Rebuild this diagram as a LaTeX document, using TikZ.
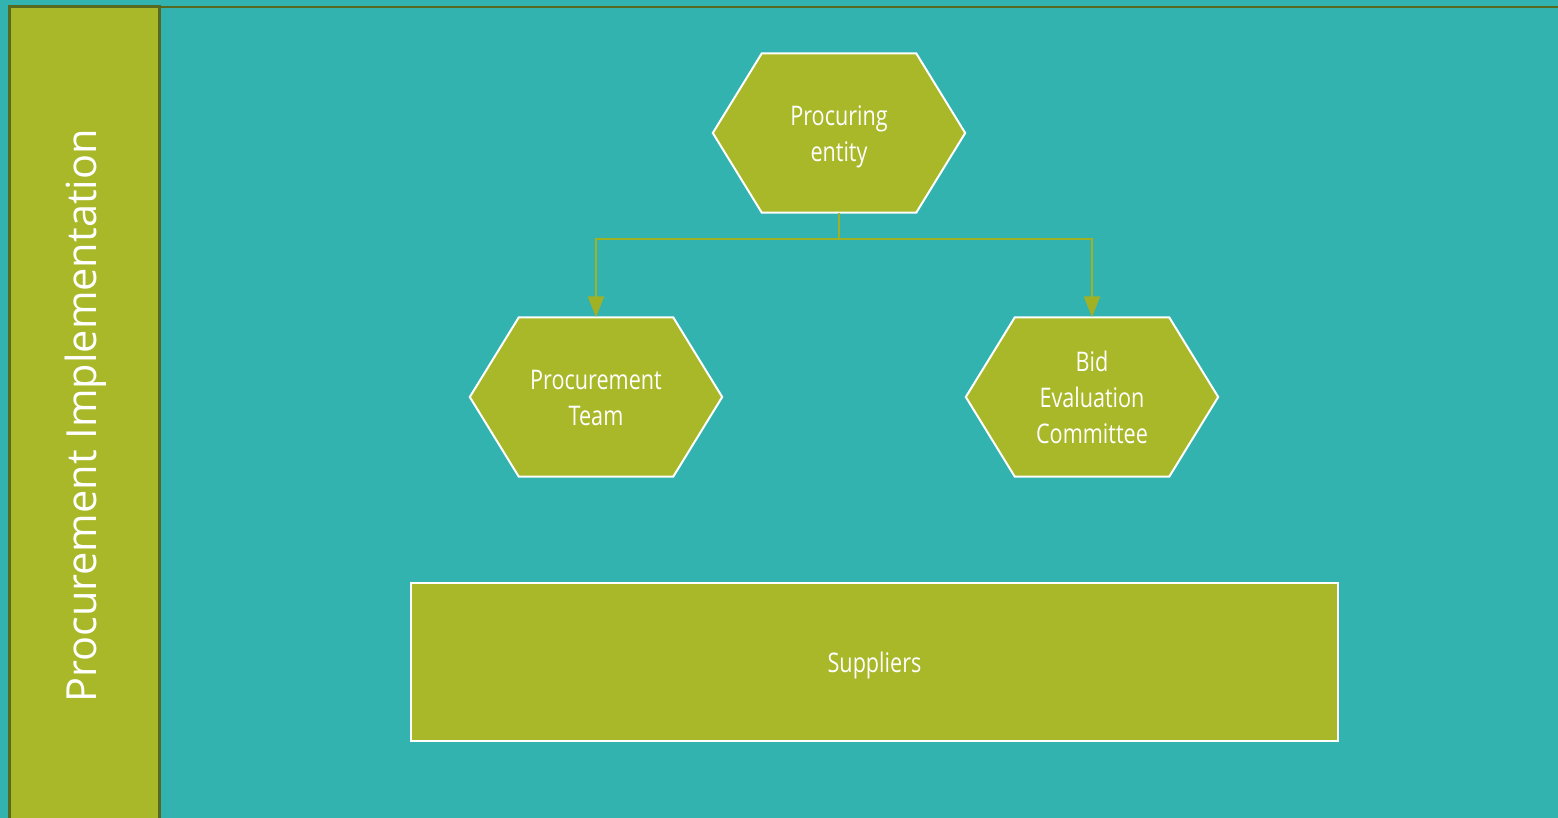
\documentclass[tikz,border=0pt]{standalone}
\usepackage{fontspec}
\setmainfont{Open Sans}
\newfontfamily\condfont[FakeStretch=0.8]{Open Sans}
\usetikzlibrary{arrows.meta,backgrounds}
\definecolor{teal1}{RGB}{51,179,176}
\definecolor{olive1}{RGB}{168,184,40}
\definecolor{darkol}{RGB}{86,105,30}
\definecolor{connol}{RGB}{160,178,36}
\tikzset{
  hexbox/.style={minimum width=252pt, minimum height=159pt, inner sep=0pt, text=white,
    font=\condfont\fontsize{27pt}{36pt}\selectfont},
  hexfill/.style={fill=olive1, draw=white, line width=2pt, line join=miter},
  conn/.style={draw=connol, line width=2pt, -{Triangle[length=21pt,width=16pt,fill=connol]}},
  supbox/.style={fill=olive1, draw=white, line width=2pt, minimum width=927pt, minimum height=158pt,
    text=white, font=\condfont\fontsize{27pt}{36pt}\selectfont},
  lanetext/.style={rotate=90, text=white, font=\fontsize{41.5pt}{50pt}\selectfont, inner sep=0pt},
  bandline/.style={draw=darkol, line width=3pt},
}
\newcommand{\hextext}[1]{\raisebox{-3.5pt}[\height][\depth]{\begin{tabular}{@{}c@{}}#1\end{tabular}}}
\newcommand{\drawhex}[1]{%
  \draw[hexfill] (#1.west) -- ([xshift=49pt]#1.north west) -- ([xshift=-49pt]#1.north east)
    -- (#1.east) -- ([xshift=-49pt]#1.south east) -- ([xshift=49pt]#1.south west) -- cycle;}
\begin{document}
\begin{tikzpicture}[x=1pt,y=-1pt]
\useasboundingbox (0,0) rectangle (1558,818);
\begin{scope}[on background layer]
\fill[teal1] (0,0) rectangle (1558,818);
\end{scope}
% lane band
\fill[olive1] (9.5,7) rectangle (159.5,830);
\draw[bandline] (9.5,830) -- (9.5,7) -- (159.5,7) -- (159.5,830);
\draw[draw=darkol, line width=2pt] (159.5,7) -- (1560,7);
\node[lanetext] (lane) at (86,416) {Procurement Implementation};
% nodes
\node[hexbox] (pe) at (839,133) {\hextext{Procuring\\entity}};
\node[hexbox] (pt) at (596,397) {\hextext{Procurement\\Team}};
\node[hexbox] (be) at (1092,397) {\hextext{Bid\\Evaluation\\Committee}};
\begin{scope}[on background layer]
\drawhex{pe}
\drawhex{pt}
\drawhex{be}
\end{scope}
\node[supbox] (sup) at (874.5,662) {\raisebox{-3.5pt}[\height][\depth]{Suppliers}};
% connectors
\draw[conn] (pe.south) -- ++(0,26) -| (pt.north);
\draw[conn] (pe.south) -- ++(0,26) -| (be.north);
\end{tikzpicture}
\end{document}
